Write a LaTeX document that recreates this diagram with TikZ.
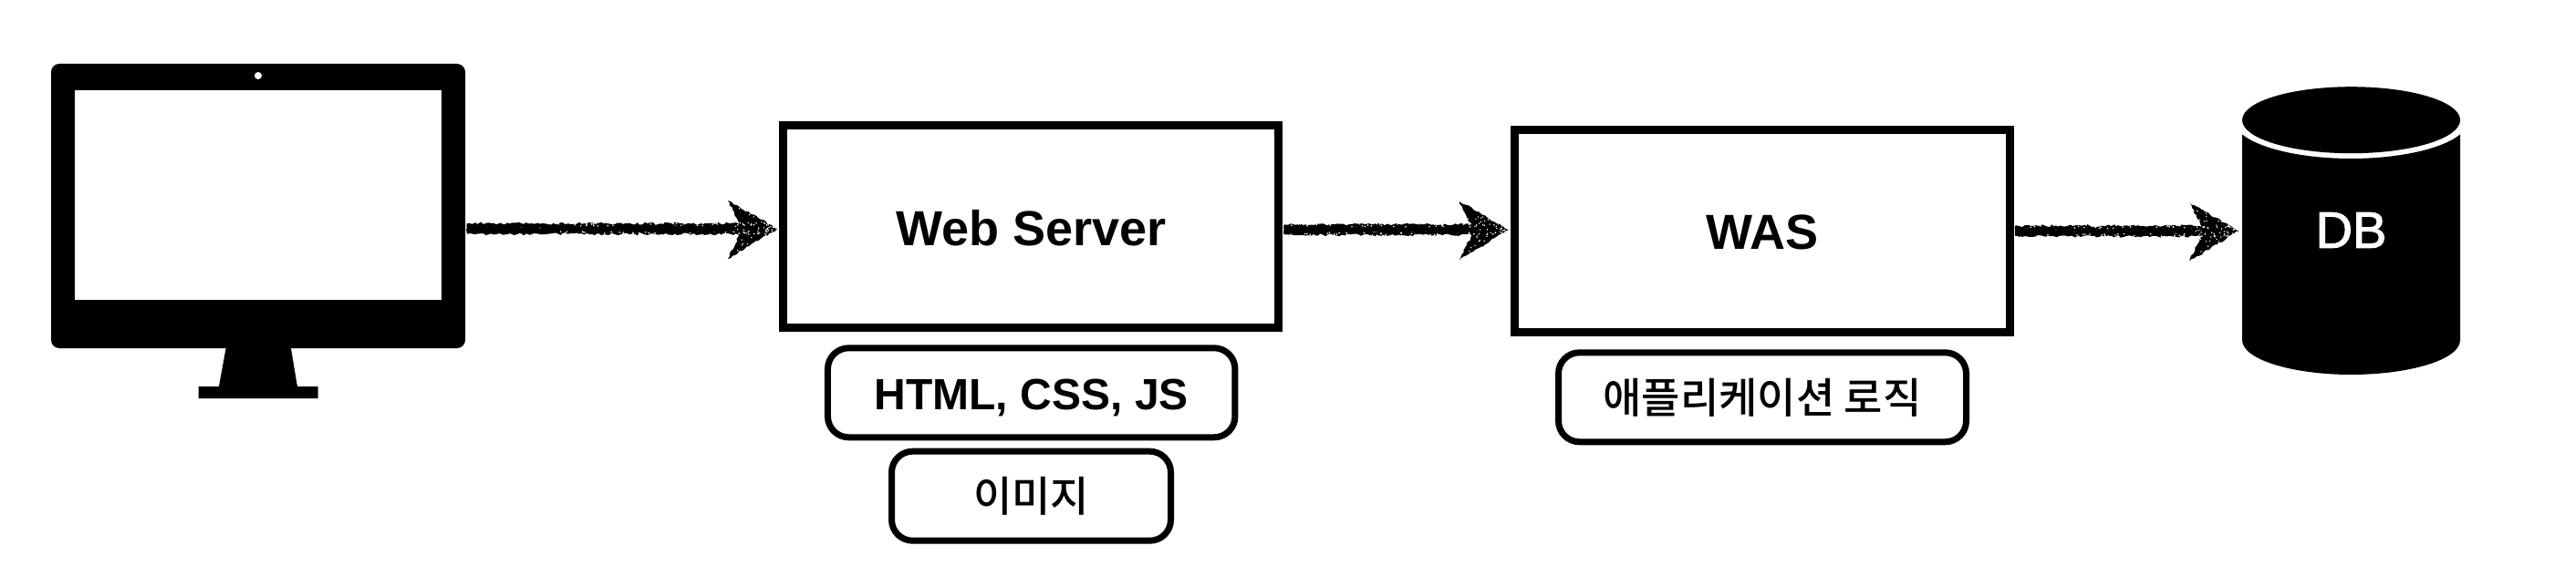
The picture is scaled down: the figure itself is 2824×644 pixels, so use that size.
\documentclass[tikz,border=0pt]{standalone}
\usepackage{fontspec}
\setmainfont{Liberation Sans}
\newfontfamily\krfont{Noto Sans CJK KR Medium}
\newfontfamily\dbfont[FakeBold=2]{Liberation Sans}
\usetikzlibrary{decorations.pathmorphing,shapes.geometric}
\newcommand{\nudged}[1]{\raisebox{-1.7pt}[\height][0pt]{#1}}
\tikzset{
  x=1pt,y=-1pt,
  bigbox/.style={draw=black,line width=8.5pt,fill=white,rectangle,inner sep=0pt,minimum width=543pt,minimum height=222pt,font=\bfseries\fontsize{54pt}{54pt}\selectfont},
  pill/.style={draw=black,line width=7pt,fill=white,rectangle,rounded corners=23pt,inner sep=0pt,minimum height=98pt},
  latintag/.style={font=\bfseries\fontsize{48pt}{48pt}\selectfont},
  kortag/.style={font=\krfont\fontsize{46pt}{46pt}\selectfont},
  screenrect/.style={fill=white,rectangle,inner sep=0pt,minimum width=402.5pt,minimum height=230pt},
  roughline/.style={draw=black,line width=3.4pt,decorate,decoration={random steps,segment length=3pt,amplitude=1.3pt}},
  roughhead/.style={fill=black,decorate,decoration={random steps,segment length=3pt,amplitude=1.1pt}},
}
\newcommand{\roughconn}[2]{%
  \foreach \o in {-4,-2,0,2,4}{%
    \draw[roughline] ([yshift=\o pt]#1) -- ([yshift=\o pt,xshift=-28pt]#2);
  }
  \fill[roughhead] (#2) -- ++(-54,-31) -- ++(13,26) -- ++(3,5) -- ++(-3,6) -- ++(-13,27) -- cycle;
  \foreach \i in {1,...,70}{%
    \pgfmathsetmacro{\px}{-rnd*240}
    \pgfmathsetmacro{\py}{(rnd>0.5?1:-1)*(3+rnd*3.5)}
    \fill[white] ([xshift=\px pt,yshift=\py pt]#2) circle (0.9pt);
  }
  \foreach \i in {1,...,45}{%
    \pgfmathsetmacro{\px}{-rnd*44-4}
    \pgfmathsetmacro{\py}{(rnd-0.5)*1.1*(-\px)}
    \fill[white] ([xshift=\px pt,yshift=\py pt]#2) circle (0.8pt);
  }
}
\begin{document}
\begin{tikzpicture}
\useasboundingbox (0,0) rectangle (2824,644);
\pgfmathsetseed{4242}
% monitor
\fill[black] (248,380) -- (318.6,380) -- (326,424) -- (348.5,424) -- (348.5,437) -- (217.6,437) -- (217.6,424) -- (240,424) -- cycle;
\node[fill=black,rectangle,rounded corners=9pt,inner sep=0pt,minimum width=454pt,minimum height=312pt] (monitor) at (283,226) {};
\node[screenrect] (screen) at (283.2,214) {};
\node[fill=white,ellipse,inner sep=0pt,minimum width=8pt,minimum height=8pt] (camera) at (283,83) {};
% boxes
\node[bigbox] (web) at (1130.2,248.5) {\nudged{Web Server}};
\node[bigbox] (was) at (1931.8,253.3) {\nudged{WAS}};
\node[pill,minimum width=446.5pt,latintag] (tech) at (1130.7,430.8) {\nudged{HTML, CSS, JS}};
\node[pill,minimum width=306pt,kortag] (img) at (1130.5,544.2) {이미지};
\node[pill,minimum width=447pt,kortag] (logic) at (1932,435.8) {애플리케이션 로직};
% database
\fill[black] (2458,147.5) .. controls (2480,165) and (2530,174) .. (2577.5,174) .. controls (2625,174) and (2675,165) .. (2697,147.5) -- (2697,373) .. controls (2697,395) and (2640,411) .. (2577.5,411) .. controls (2515,411) and (2458,395) .. (2458,373) -- cycle;
\fill[black] (2577.5,131.7) ellipse (119.5 and 36.5);
\node[rectangle,inner sep=0pt,minimum width=239pt,minimum height=120pt,text=white,font=\dbfont\fontsize{56pt}{56pt}\selectfont] (db) at (2577.5,252.5) {DB};
% connectors
\coordinate (t1) at ([xshift=-2.5pt,yshift=-2.5pt]web.west);
\coordinate (t2) at ([xshift=-2pt,yshift=1.3pt]was.west);
\coordinate (t3) at ([xshift=-3.5pt,yshift=-1pt]db.west);
\coordinate (s1) at ([xshift=1.5pt]monitor.east |- t1);
\coordinate (s2) at ([xshift=1.5pt]web.east |- t2);
\coordinate (s3) at ([xshift=1.5pt]was.east |- t3);
\roughconn{s1}{t1}
\roughconn{s2}{t2}
\roughconn{s3}{t3}
\end{tikzpicture}
\end{document}
